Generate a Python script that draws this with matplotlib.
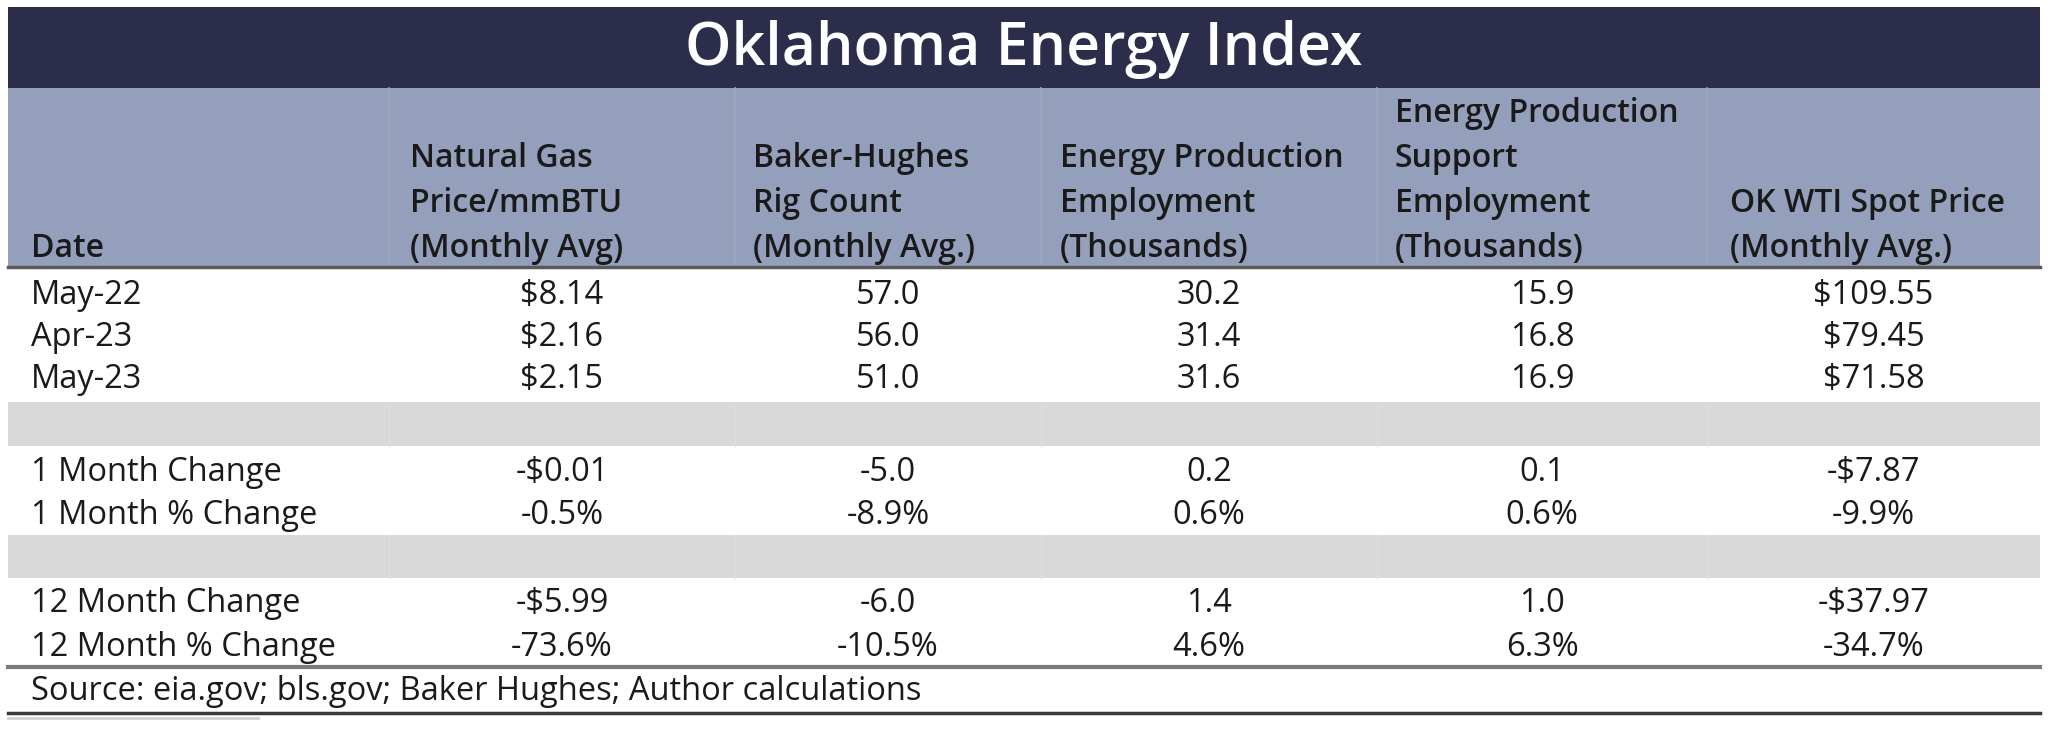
import matplotlib
matplotlib.use("Agg")
import matplotlib.pyplot as plt
from matplotlib.patches import Rectangle

# ---- data ----
title = "Oklahoma Energy Index"
col_headers = [
    "Date",
    "Natural Gas\nPrice/mmBTU\n(Monthly Avg)",
    "Baker-Hughes\nRig Count\n(Monthly Avg.)",
    "Energy Production\nEmployment\n(Thousands)",
    "Energy Production\nSupport\nEmployment\n(Thousands)",
    "OK WTI Spot Price\n(Monthly Avg.)",
]
dates = ["May-22", "Apr-23", "May-23"]
nat_gas = [8.14, 2.16, 2.15]
rig_count = [57.0, 56.0, 51.0]
prod_emp = [30.2, 31.4, 31.6]
support_emp = [15.9, 16.8, 16.9]
wti_price = [109.55, 79.45, 71.58]

change_labels = ["1 Month Change", "1 Month % Change", "12 Month Change", "12 Month % Change"]
m1_change = [-0.01, -5.0, 0.2, 0.1, -7.87]
m1_pct = [-0.5, -8.9, 0.6, 0.6, -9.9]
m12_change = [-5.99, -6.0, 1.4, 1.0, -37.97]
m12_pct = [-73.6, -10.5, 4.6, 6.3, -34.7]
source = "Source: eia.gov; bls.gov; Baker Hughes; Author calculations"

# ---- formatting helpers ----
def money(v):
    return ("-$%.2f" % abs(v)) if v < 0 else ("$%.2f" % v)

def num(v):
    return "%.1f" % v

def pct(v):
    return "%.1f%%" % v

col_fmt = [money, num, num, num, money]

# ---- figure ----
W, H = 2048, 737
fig = plt.figure(figsize=(W / 100, H / 100), dpi=100)
ax = fig.add_axes([0, 0, 1, 1])
ax.set_xlim(0, W)
ax.set_ylim(H, 0)
ax.axis("off")

FONT = "Open Sans"
NAVY = "#2b2d4a"
HEAD = "#94a0bb"
HEAD_SEP = "#9ca7c0"
GRAY = "#d9d9d9"
TXT = "#1a1a1a"
BODY_FS = 23.5
HEAD_FS = 23

left, right = 8, 2040
seps = [389, 735, 1041, 1377, 1707]
col_edges = [left] + seps + [right]
centers = [(col_edges[i] + col_edges[i + 1]) / 2 for i in range(1, 6)]
header_lefts = [31, 410, 753, 1060, 1395, 1730]

# title band
ax.add_patch(Rectangle((left, 7), right - left, 81, color=NAVY, lw=0))
ax.text(W / 2, 49, title, ha="center", va="center", color="white",
        fontsize=42.5, family=FONT, weight="semibold")

# header band
ax.add_patch(Rectangle((left, 88), right - left, 179, color=HEAD, lw=0))
for s in seps:
    ax.plot([s, s], [88, 266], color=HEAD_SEP, lw=1.2)
ax.plot([left, right], [267, 267], color="#5a5a5a", lw=2.5)

line_gap = 45
bottom_base = 257
for i, h in enumerate(col_headers):
    lines = h.split("\n")
    n = len(lines)
    for j, ln in enumerate(lines):
        y = bottom_base - (n - 1 - j) * line_gap
        ax.text(header_lefts[i], y, ln, ha="left", va="baseline", color=TXT,
                fontsize=HEAD_FS, family=FONT, weight="semibold")

# data rows
row_y = [295, 337, 379]
cols = [nat_gas, rig_count, prod_emp, support_emp, wti_price]
for r, d in enumerate(dates):
    ax.text(31, row_y[r], d, ha="left", va="center", color=TXT, fontsize=BODY_FS, family=FONT)
    for c in range(5):
        ax.text(centers[c], row_y[r], col_fmt[c](cols[c][r]), ha="center", va="center",
                color=TXT, fontsize=BODY_FS, family=FONT)

# gray separator bands
for y0, y1 in [(402, 446), (535, 578)]:
    ax.add_patch(Rectangle((left, y0), right - left, y1 - y0, color=GRAY, lw=0))
    for s in seps:
        ax.plot([s, s], [y0, y1], color="#dedede", lw=1)

change_rows = [m1_change, m1_pct, m12_change, m12_pct]
change_fmts = [col_fmt, [pct] * 5, col_fmt, [pct] * 5]
change_y = [472, 515, 603, 647]
for r, lab in enumerate(change_labels):
    ax.text(31, change_y[r], lab, ha="left", va="center", color=TXT, fontsize=BODY_FS, family=FONT)
    for c in range(5):
        ax.text(centers[c], change_y[r], change_fmts[r][c](change_rows[r][c]),
                ha="center", va="center", color=TXT, fontsize=BODY_FS, family=FONT)

# bottom rules and source
ax.plot([left, right], [667, 667], color="#7a7a7a", lw=3)
ax.text(31, 692, source, ha="left", va="center", color=TXT, fontsize=BODY_FS, family=FONT)
ax.plot([left, right], [713, 713], color="#3a3a3a", lw=2.5)
ax.plot([left, 258], [718, 718], color="#d0d0d0", lw=2)

fig.savefig("out.png", dpi=100)
